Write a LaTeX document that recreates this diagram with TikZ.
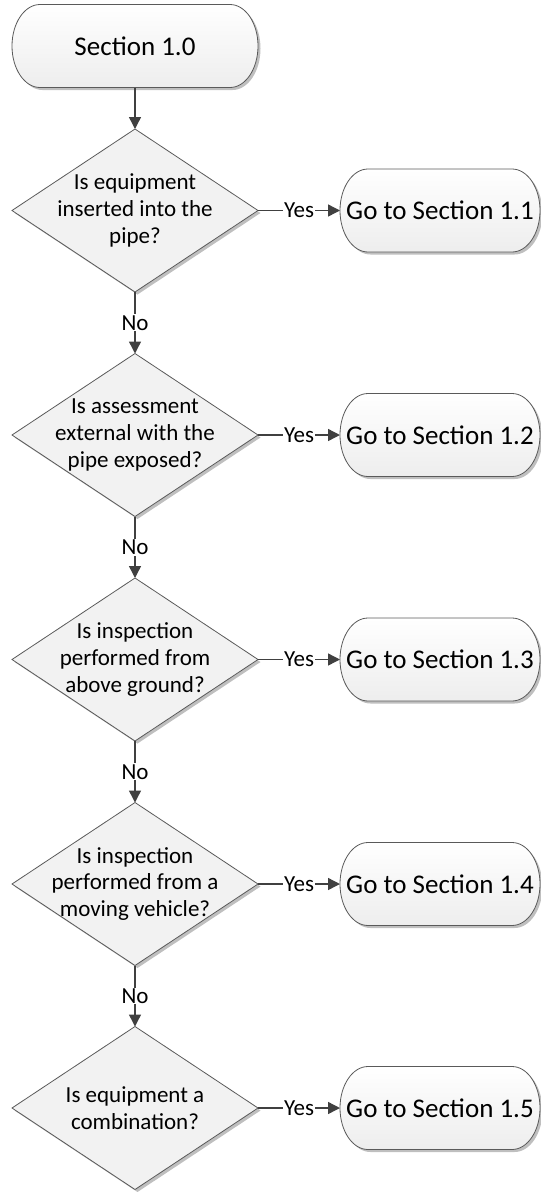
\documentclass[tikz,border=0pt]{standalone}
\usepackage{fontspec}
\setmainfont{Carlito}
\usetikzlibrary{shapes.geometric,arrows.meta,shadows,backgrounds}
\definecolor{edge}{HTML}{404040}
\definecolor{rim}{HTML}{5A5A5A}

% stadium outline with elliptical ends around a rectangular node
\newcommand\stadium[1]{%
  \path[draw=rim, line width=0.8pt, top color=white, bottom color=black!7, softshadow]
    ([xshift=28pt]#1.north west) -- ([xshift=-28pt]#1.north east)
    arc[start angle=90, end angle=-90, x radius=28pt, y radius=41.5pt]
    -- ([xshift=28pt]#1.south west)
    arc[start angle=270, end angle=90, x radius=28pt, y radius=41.5pt] -- cycle;}

\begin{document}
\begin{tikzpicture}[x=1pt, y=1pt,
  softshadow/.style={drop shadow={shadow xshift=2.5pt, shadow yshift=-2.5pt, opacity=0.25, fill=black}},
  termbox/.style={draw=none, minimum height=83pt, inner sep=0pt, outer sep=0pt,
    font=\fontsize{27}{30}\selectfont},
  decision/.style={diamond, draw=rim, line width=0.8pt, fill=black!5,
    minimum width=246pt, minimum height=163pt, inner sep=0pt, outer sep=0pt, softshadow},
  qtext/.style={align=center, inner sep=0pt, font=\fontsize{23}{26.7}\selectfont},
  flow/.style={draw=edge, line width=1.4pt, -{Triangle[length=12pt, width=12pt]}},
  tag/.style={fill=white, inner sep=1pt, text=black, font=\fontsize{23}{26.7}\selectfont},
]
\useasboundingbox (0,0) rectangle (541,-1192);

% start
\node[termbox, minimum width=246pt] (start) at (135,-46) {Section 1.0};

% decisions
\node[decision] (q1) at (135,-210.5) {};
\node[qtext] (q1t) at (q1) {Is equipment\\inserted into the\\pipe?};
\node[decision] (q2) at (135,-435) {};
\node[qtext] (q2t) at (q2) {Is assessment\\external with the\\pipe exposed?};
\node[decision] (q3) at (135,-659.5) {};
\node[qtext] (q3t) at (q3) {Is inspection\\performed from\\above ground?};
\node[decision] (q4) at (135,-884) {};
\node[qtext] (q4t) at (q4) {Is inspection\\performed from a\\moving vehicle?};
\node[decision] (q5) at (135,-1108) {};
\node[qtext] (q5t) at (q5) {Is equipment a\\combination?};

% targets
\node[termbox, minimum width=200pt] (g1) at (440,-210.5) {Go to Section 1.1};
\node[termbox, minimum width=200pt] (g2) at (440,-435) {Go to Section 1.2};
\node[termbox, minimum width=200pt] (g3) at (440,-659.5) {Go to Section 1.3};
\node[termbox, minimum width=200pt] (g4) at (440,-884) {Go to Section 1.4};
\node[termbox, minimum width=200pt] (g5) at (440,-1108) {Go to Section 1.5};

\begin{scope}[on background layer]
  \stadium{start}
  \stadium{g1}
  \stadium{g2}
  \stadium{g3}
  \stadium{g4}
  \stadium{g5}
\end{scope}

% connectors
\draw[flow] (start.south) -- (q1.north);
\draw[flow] (q1.east) -- node[tag] (y1) {Yes} (g1.west);
\draw[flow] (q2.east) -- node[tag] (y2) {Yes} (g2.west);
\draw[flow] (q3.east) -- node[tag] (y3) {Yes} (g3.west);
\draw[flow] (q4.east) -- node[tag] (y4) {Yes} (g4.west);
\draw[flow] (q5.east) -- node[tag] (y5) {Yes} (g5.west);
\draw[flow] (q1.south) -- node[tag] (n1) {No} (q2.north);
\draw[flow] (q2.south) -- node[tag] (n2) {No} (q3.north);
\draw[flow] (q3.south) -- node[tag] (n3) {No} (q4.north);
\draw[flow] (q4.south) -- node[tag] (n4) {No} (q5.north);
\end{tikzpicture}
\end{document}
